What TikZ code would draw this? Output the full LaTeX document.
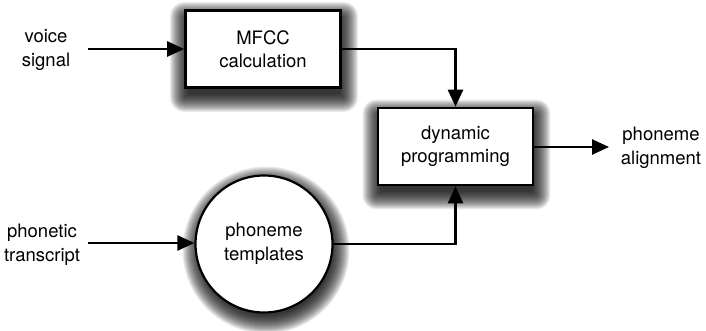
\documentclass[tikz,border=0pt]{standalone}
\usepackage{fontspec}
\setmainfont{TeX Gyre Heros}
\usetikzlibrary{arrows.meta}
\pgfdeclarelayer{background}
\pgfsetlayers{background,main}
\begin{document}
\begin{tikzpicture}[x=1pt,y=-1pt,
  every node/.style={font=\fontsize{18.5}{23.5}\selectfont, align=center},
  boxnode/.style={draw, line width=2.6pt, fill=white, minimum width=155pt, minimum height=77pt, inner sep=0pt},
  circnode/.style={draw, circle, line width=2.2pt, fill=white, minimum size=137pt, inner sep=0pt},
  conn/.style={line width=2.6pt, -{Triangle[length=17pt,width=15pt]}},
  shadowlayer/.style={fill=black, fill opacity=0.08},
  lbl/.style={inner sep=0pt}]
\useasboundingbox (0,0) rectangle (706,331);
\node[boxnode] (mfcc) at (263,49) {MFCC\\calculation};
\node[boxnode] (dp) at (455.5,146.5) {dynamic\\programming};
\node[circnode] (pt) at (264,244) {phoneme\\templates};
\node[lbl] (vs) at (46,50) {voice\\signal};
\node[lbl] (ph) at (42,245) {phonetic\\transcript};
\node[lbl] (pa) at (661,148) {phoneme\\alignment};
\begin{pgfonlayer}{background}
\foreach \r in {-3,...,15}{
  \foreach \n in {mfcc,dp}{
    \fill[shadowlayer, rounded corners={max(\r,0)*0.9pt+0.1pt}]
      ([shift={(1-\r,8-\r)}]\n.north west) rectangle ([shift={(1+\r,8+\r)}]\n.south east);
  }
  \fill[shadowlayer] ([shift={(2,6)}]pt.center) circle ({68.5+\r});
}
\end{pgfonlayer}
\coordinate (vsend) at (88,49);
\coordinate (phend) at (88,243);
\coordinate (paend) at (609,147);
\draw[conn] (vsend) -- (mfcc.west);
\draw[conn] (phend) -- (pt.west |- phend);
\draw[conn] (pt.east) -| (dp.south);
\draw[conn] (mfcc.east) -| (dp.north);
\draw[conn] (dp.east |- paend) -- (paend);
\end{tikzpicture}
\end{document}
